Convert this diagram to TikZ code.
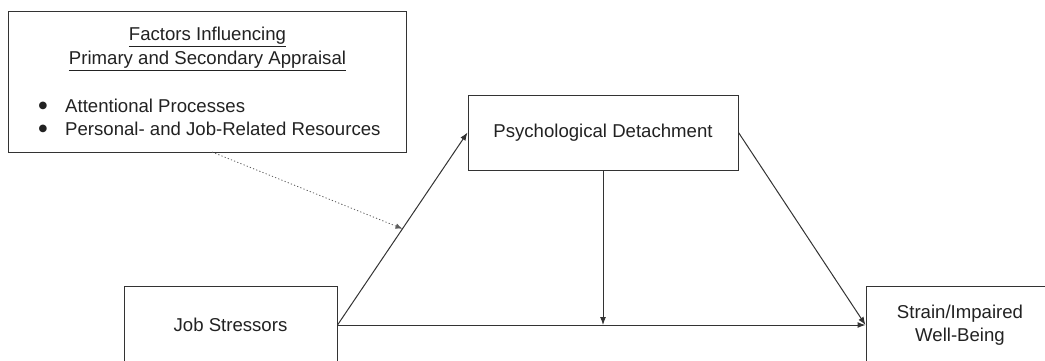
\documentclass[tikz,border=0pt]{standalone}
\usepackage{fontspec}
\setmainfont{Liberation Sans}
\newfontfamily\symfont{DejaVu Sans}
\usetikzlibrary{arrows.meta,calc}
\definecolor{linec}{HTML}{333333}
\definecolor{textc}{HTML}{222222}
\begin{document}
\begin{tikzpicture}[x=1pt,y=-1pt,
  box/.style={draw=linec,line width=1pt,fill=white,inner sep=0pt},
  txt/.style={text=textc,font=\fontsize{18.6}{23}\selectfont,inner sep=0pt},
  bul/.style={text=textc,font=\symfont\fontsize{10}{12}\selectfont,inner sep=0pt},
  conn/.style={draw=linec,line width=1pt,-{Latex[length=8pt,width=6pt]}},
  dotconn/.style={draw=linec!80,line width=0.8pt,dash pattern=on 1.2pt off 2.2pt,-{Latex[length=7pt,width=5.5pt]}}]
\useasboundingbox (0,0) rectangle (1045,360);
\clip (0,0) rectangle (1045,360);
% boxes
\node[box,minimum width=398pt,minimum height=141pt] (fac) at (207,81.5) {};
\node[box,minimum width=270pt,minimum height=75pt] (pd) at (603,132.5) {};
\node[box,minimum width=213pt,minimum height=78pt] (js) at (230.5,325) {};
\node[box,minimum width=188pt,minimum height=78pt] (sw) at (960,325) {};
% texts
\node[txt,align=center] (facT1) at (207.5,37) {\underline{Factors Influencing}};
\node[txt,align=center] (facT2) at (207.5,61) {\underline{Primary and Secondary Appraisal}};
\node[bul] (b1) at (43,106) {●};
\node[txt,anchor=west] (l1) at (65,106) {Attentional Processes};
\node[bul] (b2) at (43,129) {●};
\node[txt,anchor=west] (l2) at (65,129) {Personal- and Job-Related Resources};
\node[txt] (pdT) at (603,133) {Psychological Detachment};
\node[txt] (jsT) at (230.5,325) {Job Stressors};
\node[txt,align=center] (swT) at (960,325) {Strain/Impaired\\Well-Being};
% connectors
\coordinate (mid) at ($(js.east)!0.5!(pd.west)$);
\draw[conn] (js.east) -- (pd.west);
\draw[conn] (js.east) -- (sw.west);
\coordinate (drop) at (pd.south |- js.east);
\draw[conn] (pd.south) -- (drop);
\draw[conn] (pd.east) -- (sw.west);
\coordinate (dstart) at (212,152);
\draw[dotconn] (dstart) -- (mid);
\end{tikzpicture}
\end{document}
